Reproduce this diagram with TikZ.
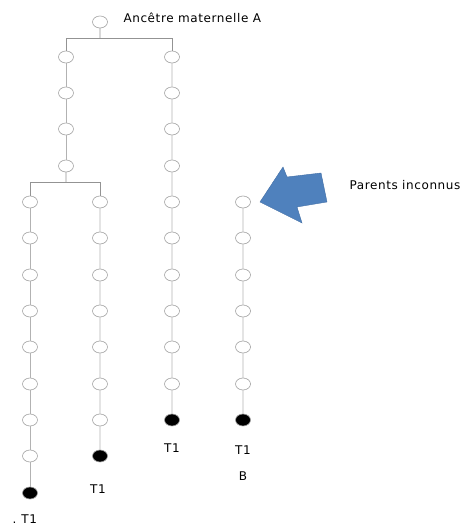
\documentclass[tikz,border=0pt]{standalone}
\usepackage{fontspec}
\setmainfont{DejaVu Sans}
\usepackage{tkz-graph}
\usetikzlibrary{arrows}
\usetikzlibrary{shapes}

\begin{document}
\begin{tikzpicture}[scale = 0.035146]
\tikzstyle{VertexStyle}=[shape = ellipse,
                         minimum width = 15pt,
                         minimum height = 12pt,
                         inner sep = 0pt,
                         line width = 0.6pt,
                         draw = gray!75]
\tikzstyle{EdgeStyle}=[draw = gray!60, line width = 0.6pt]
\tikzstyle{midV}=[draw = gray!120]
\tikzstyle{fullV}=[draw = black, fill = black, minimum width = 15pt, minimum height = 13pt]
\tikzstyle{lbl}=[font = \fontsize{12}{14}\selectfont\addfontfeatures{LetterSpace=5}]
\useasboundingbox (0,0) rectangle (473,526);
% ancestor
\Vertex[x = 100, y = 504, NoLabel, style = {draw = black!75}]{v0}
% branch a
\Vertex[x = 66, y = 469, NoLabel, style = midV]{a1}
\Vertex[x = 66, y = 433, NoLabel, style = midV]{a2}
\Vertex[x = 66, y = 397, NoLabel, style = midV]{a3}
\Vertex[x = 66, y = 360, NoLabel, style = midV]{a4}
% branch b
\Vertex[x = 172, y = 469, NoLabel]{b1}
\Vertex[x = 172, y = 433, NoLabel]{b2}
\Vertex[x = 172, y = 397, NoLabel]{b3}
\Vertex[x = 172, y = 360, NoLabel]{b4}
\Vertex[x = 172, y = 324, NoLabel]{b5}
\Vertex[x = 172, y = 288, NoLabel]{b6}
\Vertex[x = 172, y = 251, NoLabel]{b7}
\Vertex[x = 172, y = 215, NoLabel]{b8}
\Vertex[x = 172, y = 179, NoLabel]{b9}
\Vertex[x = 172, y = 142, NoLabel]{b10}
\Vertex[x = 172, y = 106, NoLabel, style = fullV]{b11}
% branch c
\Vertex[x = 30, y = 324, NoLabel]{c1}
\Vertex[x = 30, y = 288, NoLabel]{c2}
\Vertex[x = 30, y = 251, NoLabel]{c3}
\Vertex[x = 30, y = 215, NoLabel]{c4}
\Vertex[x = 30, y = 179, NoLabel]{c5}
\Vertex[x = 30, y = 142, NoLabel]{c6}
\Vertex[x = 30, y = 106, NoLabel]{c7}
\Vertex[x = 30, y = 70, NoLabel]{c8}
\Vertex[x = 30, y = 33, NoLabel, style = fullV]{c9}
% branch d
\Vertex[x = 100, y = 324, NoLabel]{d1}
\Vertex[x = 100, y = 288, NoLabel]{d2}
\Vertex[x = 100, y = 251, NoLabel]{d3}
\Vertex[x = 100, y = 215, NoLabel]{d4}
\Vertex[x = 100, y = 179, NoLabel]{d5}
\Vertex[x = 100, y = 142, NoLabel]{d6}
\Vertex[x = 100, y = 106, NoLabel]{d7}
\Vertex[x = 100, y = 70, NoLabel, style = fullV]{d8}
% branch e (unknown parents)
\Vertex[x = 243, y = 324, NoLabel]{e1}
\Vertex[x = 243, y = 288, NoLabel]{e2}
\Vertex[x = 243, y = 251, NoLabel]{e3}
\Vertex[x = 243, y = 215, NoLabel]{e4}
\Vertex[x = 243, y = 179, NoLabel]{e5}
\Vertex[x = 243, y = 142, NoLabel]{e6}
\Vertex[x = 243, y = 106, NoLabel, style = fullV]{e7}
% forks
\coordinate (j1) at (100,488);
\coordinate (j2) at (66,344);
\draw[EdgeStyle, draw = gray!85] (v0) -- (j1);
\draw[EdgeStyle, draw = gray!85] (a1) |- (j1) -| (b1);
\draw[EdgeStyle, draw = gray!85] (a4) -- (j2);
\draw[EdgeStyle, draw = gray!85] (c1) |- (j2) -| (d1);
\Edge[](a1)(a2)
\Edge[](a2)(a3)
\Edge[](a3)(a4)
\Edge[](b1)(b2)
\Edge[](b2)(b3)
\Edge[](b3)(b4)
\Edge[](b4)(b5)
\Edge[](b5)(b6)
\Edge[](b6)(b7)
\Edge[](b7)(b8)
\Edge[](b8)(b9)
\Edge[](b9)(b10)
\Edge[](b10)(b11)
\Edge[](c1)(c2)
\Edge[](c2)(c3)
\Edge[](c3)(c4)
\Edge[](c4)(c5)
\Edge[](c5)(c6)
\Edge[](c6)(c7)
\Edge[](c7)(c8)
\Edge[](c8)(c9)
\Edge[](d1)(d2)
\Edge[](d2)(d3)
\Edge[](d3)(d4)
\Edge[](d4)(d5)
\Edge[](d5)(d6)
\Edge[](d6)(d7)
\Edge[](d7)(d8)
\Edge[](e1)(e2)
\Edge[](e2)(e3)
\Edge[](e3)(e4)
\Edge[](e4)(e5)
\Edge[](e5)(e6)
\Edge[](e6)(e7)
% block arrow
\filldraw[fill = {rgb,255:red,79;green,129;blue,189}, draw = {rgb,255:red,65;green,110;blue,165}, line width = 0.4pt]
  (260,324) -- (283,359) -- (287,349) -- (321,353) -- (327,324) -- (297,319) -- (302,303) -- cycle;
% labels
\node[lbl, anchor = west] (tA) at (120,508) {Ancêtre maternelle A};
\node[lbl, anchor = west] (tP) at (346,341) {Parents inconnus};
\node[lbl] (tb) at (172,78) {T1};
\node[lbl] (te) at (243,76) {T1};
\node[lbl] (tB) at (243,50) {B};
\node[lbl] (td) at (98,37) {T1};
\node[lbl, anchor = west] (tc) at (9,7) {.\hspace{5pt}T1};
\end{tikzpicture}
\end{document}
